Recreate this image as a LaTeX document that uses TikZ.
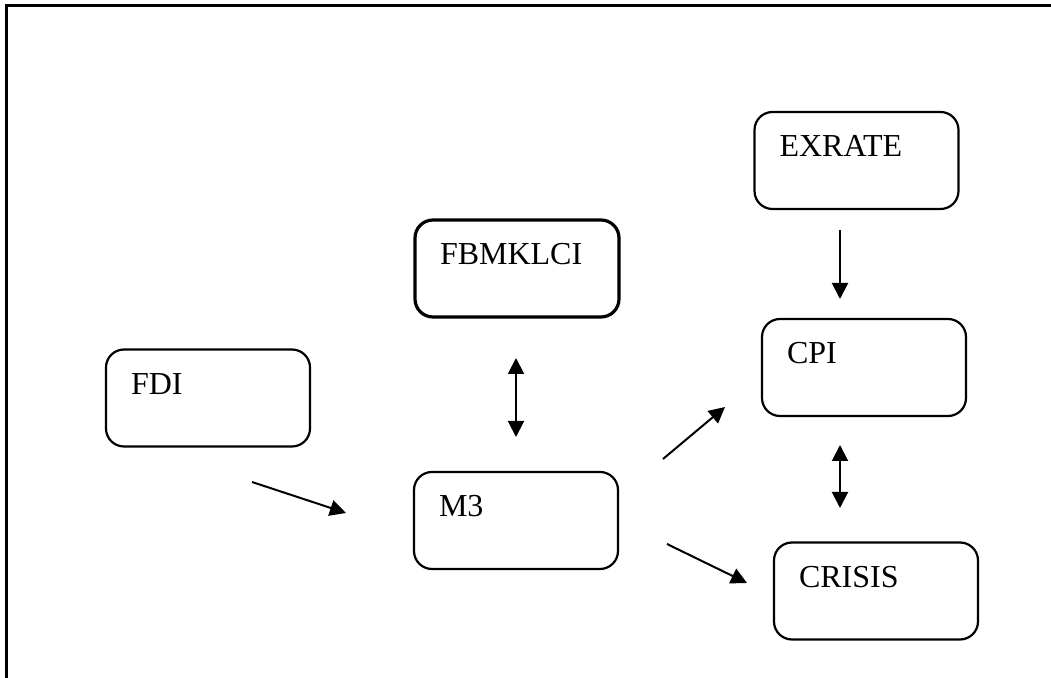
\documentclass[tikz,border=0pt]{standalone}
\usepackage{fontspec}
\setmainfont{Liberation Serif}
\usetikzlibrary{arrows.meta}

\begin{document}
\begin{tikzpicture}[
    x=0.5pt, y=-0.5pt,
    >={Triangle[length=8pt, width=8pt]},
    font=\fontsize{16}{19}\selectfont,
    % Styles
    var_box/.style={draw, line width=1.1pt, rounded corners=9pt, align=left,
        text width=77pt, inner xsep=12.5pt, inner ysep=0pt,
        text height=22.3pt, text depth=26.2pt},
    thick_box/.style={var_box, line width=1.6pt},
    link/.style={->, line width=1pt},
    both_link/.style={<->, line width=1pt}
]

    % ==========================================
    % 1. FRAME
    % ==========================================
    \useasboundingbox (0,0) rectangle (1051,678);
    \draw[line width=1.3pt] (1051,5.5) -- (6.5,5.5) -- (6.5,678);

    % ==========================================
    % 2. VARIABLES
    % ==========================================
    \node[var_box] (fdi) at (208,398) {FDI};
    \node[thick_box] (fbmklci) at (517,268.5) {FBMKLCI};
    \node[var_box] (m3) at (516,520.5) {M3};
    \node[var_box] (exrate) at (856.5,160.5) {EXRATE};
    \node[var_box] (cpi) at (864,367.5) {CPI};
    \node[var_box] (crisis) at (876,591) {CRISIS};

    % ==========================================
    % 3. ARROW END POINTS
    % ==========================================
    \coordinate (fdi_out) at (252,482);
    \coordinate (m3_in) at (346,513);
    \coordinate (fbmklci_down) at (516,358);
    \coordinate (m3_up) at (516,437);
    \coordinate (m3_cpi) at (663,459);
    \coordinate (cpi_in) at (725,407);
    \coordinate (m3_crisis) at (667,544);
    \coordinate (crisis_in) at (747,583);
    \coordinate (exrate_down) at (840,230);
    \coordinate (cpi_up) at (840,299);
    \coordinate (cpi_down) at (840,445);
    \coordinate (crisis_up) at (840,508);

    % ==========================================
    % 4. LINKS
    % ==========================================
    \draw[link] (fdi_out) -- (m3_in);
    \draw[both_link] (fbmklci_down) -- (m3_up);
    \draw[link] (m3_cpi) -- (cpi_in);
    \draw[link] (m3_crisis) -- (crisis_in);
    \draw[link] (exrate_down) -- (cpi_up);
    \draw[both_link] (cpi_down) -- (crisis_up);

\end{tikzpicture}
\end{document}
